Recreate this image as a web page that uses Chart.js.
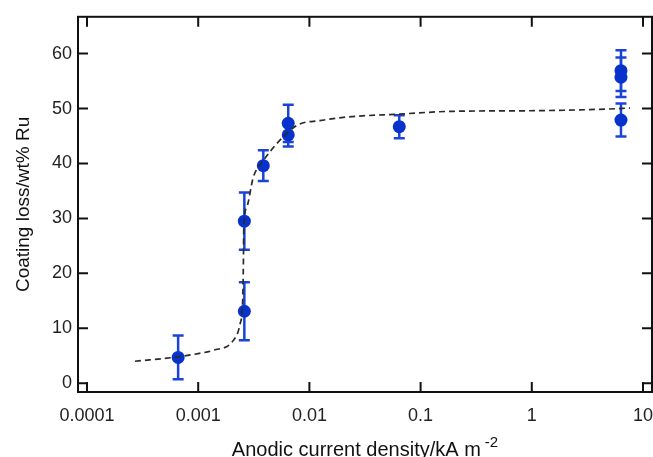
<!DOCTYPE html>
<html>
<head>
<meta charset="utf-8">
<script src="https://cdn.jsdelivr.net/npm/chart.js@4.4.1/dist/chart.umd.min.js"></script>
<style>
    html, body { margin: 0; padding: 0; background: #fff; }
</style>
</head>
<body>
<canvas id="grafico" width="653" height="457"></canvas>
<script>
// measured points (current density in kA m-2, coating loss in wt% Ru)
const density = [0.00066, 0.0026, 0.0026, 0.00385, 0.00645, 0.00645, 0.0643, 6.34, 6.34, 6.34]
const loss = [4.7, 13.1, 29.5, 39.6, 47.3, 45.2, 46.7, 56.9, 55.7, 47.9]
const lossErr = [4.0, 5.3, 5.2, 2.8, 3.4, 2.1, 2.1, 3.7, 3.6, 3.0]

// dashed guide curve
const fitDensity = [0.00027, 0.00066, 0.001, 0.00137, 0.00207, 0.00238, 0.00251, 0.00255, 0.00257, 0.00273, 0.00313, 0.00385, 0.00508, 0.0067, 0.0082, 0.0124, 0.0202, 0.0653, 0.197, 0.964, 4.72, 7.64]
const fitLoss = [4.0, 4.8, 5.4, 6.0, 7.8, 10.8, 15, 22, 28.5, 32, 37.5, 40.5, 43.6, 46, 47.2, 47.8, 48.4, 49.0, 49.5, 49.6, 49.9, 50.1]

const xTicks = [0.0001, 0.001, 0.01, 0.1, 1, 10]
const xTickLabels = ['0.0001', '0.001', '0.01', '0.1', '1', '10']
const yTicks = [0, 10, 20, 30, 40, 50, 60]

const blue = '#0832cc'
const barBlue = '#1a44d6'
const fonte = '"Liberation Sans", Arial, sans-serif'

const errorBars = {
    id: 'errorBars',
    beforeDatasetsDraw(chart) {
        const { ctx, scales: { x, y } } = chart
        ctx.save()
        ctx.strokeStyle = barBlue
        ctx.lineWidth = 2.5
        density.forEach((d, i) => {
            const px = x.getPixelForValue(d)
            const top = y.getPixelForValue(loss[i] + lossErr[i])
            const bottom = y.getPixelForValue(loss[i] - lossErr[i])
            ctx.beginPath()
            ctx.moveTo(px, top)
            ctx.lineTo(px, bottom)
            ctx.moveTo(px - 5.5, top)
            ctx.lineTo(px + 5.5, top)
            ctx.moveTo(px - 5.5, bottom)
            ctx.lineTo(px + 5.5, bottom)
            ctx.stroke()
        })
        ctx.restore()
    }
}

const frame = {
    id: 'frame',
    afterDraw(chart) {
        const { ctx, chartArea: a, scales: { x, y } } = chart
        ctx.save()
        ctx.strokeStyle = '#111'
        ctx.lineWidth = 2
        ctx.strokeRect(a.left, a.top, a.right - a.left, a.bottom - a.top)
        ctx.beginPath()
        xTicks.forEach(v => {
            const px = x.getPixelForValue(v)
            ctx.moveTo(px, a.bottom)
            ctx.lineTo(px, a.bottom - 10)
            ctx.moveTo(px, a.top)
            ctx.lineTo(px, a.top + 10)
        })
        yTicks.forEach(v => {
            const py = y.getPixelForValue(v)
            ctx.moveTo(a.left, py)
            ctx.lineTo(a.left + 10, py)
            ctx.moveTo(a.right, py)
            ctx.lineTo(a.right - 10, py)
        })
        ctx.stroke()

        // x title with superscript
        const main = 'Anodic current density/kA m'
        const sup = '-2'
        ctx.fillStyle = '#111'
        ctx.textBaseline = 'alphabetic'
        ctx.font = '20px ' + fonte
        const w1 = ctx.measureText(main).width
        ctx.font = '15px ' + fonte
        const w2 = ctx.measureText(sup).width
        const start = (a.left + a.right) / 2 - (w1 + w2 + 4) / 2
        ctx.font = '20px ' + fonte
        ctx.fillText(main, start, 456)
        ctx.font = '15px ' + fonte
        ctx.fillText(sup, start + w1 + 4, 447)
        ctx.restore()
    }
}

new Chart(document.getElementById('grafico'), {
    type: 'scatter',
    data: {
        datasets: [
            {
                data: fitDensity.map((d, i) => ({ x: d, y: fitLoss[i] })),
                showLine: true,
                pointRadius: 0,
                borderColor: '#2a2a2a',
                borderWidth: 1.7,
                borderDash: [6, 4],
                cubicInterpolationMode: 'monotone'
            },
            {
                data: density.map((d, i) => ({ x: d, y: loss[i] })),
                pointRadius: 6.5,
                backgroundColor: blue,
                borderWidth: 0
            }
        ]
    },
    options: {
        responsive: false,
        animation: false,
        layout: { autoPadding: false, padding: { top: 16, right: 1, left: 0, bottom: 0 } },
        plugins: {
            legend: { display: false },
            tooltip: { enabled: false }
        },
        scales: {
            x: {
                type: 'logarithmic',
                min: Math.pow(10, -4.081),
                max: Math.pow(10, 1.081),
                grid: { display: false, drawTicks: false },
                border: { display: false },
                afterBuildTicks: scale => { scale.ticks = xTicks.map(v => ({ value: v })) },
                afterFit: scale => {
                    scale.height = 65
                    scale.paddingLeft = 0
                    scale.paddingRight = 0
                },
                ticks: {
                    autoSkip: false,
                    maxRotation: 0,
                    padding: 13,
                    color: '#222',
                    font: { size: 18, family: fonte },
                    callback: (value, index) => xTickLabels[index]
                }
            },
            y: {
                min: -1.6,
                max: 66.7,
                grid: { display: false, drawTicks: false },
                border: { display: false },
                afterBuildTicks: scale => { scale.ticks = yTicks.map(v => ({ value: v })) },
                afterFit: scale => { scale.width = 78 },
                ticks: {
                    padding: 6,
                    color: '#222',
                    font: { size: 18, family: fonte },
                    callback: value => String(value)
                },
                title: {
                    display: true,
                    text: 'Coating loss/wt% Ru',
                    color: '#111',
                    padding: { top: 12, bottom: 0 },
                    font: { size: 19, family: fonte }
                }
            }
        }
    },
    plugins: [errorBars, frame]
})
</script>
</body>
</html>
